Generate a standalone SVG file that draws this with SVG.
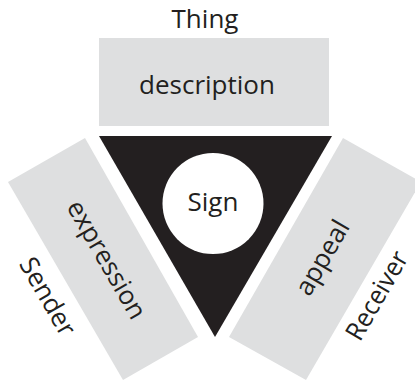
<svg xmlns="http://www.w3.org/2000/svg" width="415" height="383" viewBox="0 0 415 383">
<style>
.panel{fill:#dedfe0;}
.lbl{font-family:"Open Sans","Noto Sans","Liberation Sans",sans-serif;font-size:26px;fill:#231f20;text-anchor:middle;}
</style>
<rect width="415" height="383" fill="#ffffff"/>
<g id="thing">
<text class="lbl" x="205" y="28">Thing</text>
</g>
<g id="description">
<rect class="panel" x="99" y="38" width="230" height="88"/>
<text class="lbl" x="207" y="94">description</text>
</g>
<g id="sign">
<polygon points="99,136 332,136 215,337" fill="#231f20"/>
<circle cx="213" cy="203.5" r="50.5" fill="#ffffff"/>
<text class="lbl" x="213" y="211">Sign</text>
</g>
<g id="expression">
<polygon class="panel" points="8,182 85,138 198,337 123,380"/>
<text class="lbl" transform="translate(99,264) rotate(60)">expression</text>
</g>
<g id="sender">
<text class="lbl" transform="translate(40,301) rotate(60)">Sender</text>
</g>
<g id="appeal">
<polygon class="panel" points="343,138 421,182 306,380 229,337"/>
<text class="lbl" transform="translate(330,262) rotate(-60)">appeal</text>
</g>
<g id="receiver">
<text class="lbl" transform="translate(384.5,300) rotate(-60)" textLength="98" lengthAdjust="spacingAndGlyphs">Receiver</text>
</g>
</svg>
